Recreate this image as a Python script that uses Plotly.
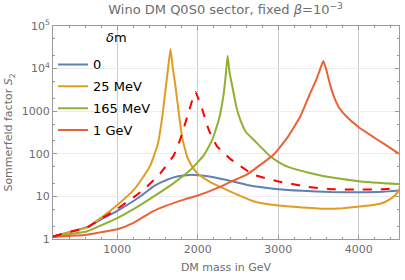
import plotly.graph_objects as go

# --- data ---
m_blue = [200, 400, 620, 800, 1000, 1200, 1300, 1446, 1535, 1700, 1800, 1900, 2000, 2100, 2283, 2407, 2500, 2615, 2700, 3000, 3300, 3650, 4000, 4300, 4500]
s_blue = [1.15, 1.45, 1.9, 2.9, 4.6, 7.8, 10.5, 17, 21, 28, 30.5, 32, 31.5, 30, 26, 23, 21, 18.6, 17.3, 14.7, 13.5, 12.6, 12.5, 12.9, 13.8]

m_orange = [200, 400, 620, 800, 1000, 1200, 1300, 1407, 1450, 1500, 1557, 1598, 1630, 1660, 1690, 1723, 1764, 1805, 1868, 1930, 2000, 2150, 2283, 2490, 2700, 3000, 3300, 3600, 3800, 4100, 4250, 4350, 4450, 4500]
s_orange = [1.15, 1.45, 1.85, 3.2, 6.3, 14, 25, 52, 85, 160, 710, 3160, 10000, 29000, 10000, 3700, 900, 240, 85, 50, 34, 22, 16.5, 11, 7.6, 6.1, 5.5, 5.1, 5.3, 6.0, 6.6, 7.8, 10.5, 14]

m_green = [200, 400, 620, 800, 1000, 1200, 1453, 1700, 1909, 2075, 2178, 2260, 2322, 2350, 2370, 2395, 2446, 2480, 2529, 2600, 2697, 2906, 3000, 3113, 3404, 3650, 4025, 4500]
s_green = [1.12, 1.3, 1.5, 2.1, 3.1, 5.0, 10, 20.5, 42, 93, 210, 620, 2600, 8000, 20000, 8000, 2600, 1230, 620, 320, 210, 85, 65, 50, 35, 28, 22.5, 19.5]

m_red = [200, 400, 620, 800, 1000, 1200, 1446, 1600, 1826, 2000, 2283, 2407, 2613, 2777, 2940, 3106, 3271, 3395, 3480, 3530, 3560, 3600, 3643, 3700, 3760, 3850, 4000, 4200, 4390, 4500]
s_red = [1.12, 1.18, 1.26, 1.45, 1.7, 2.4, 4.5, 6.0, 8.4, 10.5, 17, 22, 33, 55, 95, 230, 740, 2600, 6000, 11000, 15000, 8900, 4200, 2000, 1170, 740, 420, 235, 138, 100]

m_dash = [200, 400, 620, 800, 1000, 1200, 1328, 1535, 1701, 1785, 1868, 1930, 1970, 2010, 2055, 2137, 2241, 2407, 2490, 2615, 2700, 3000, 3350, 3650, 4000, 4300, 4500]
s_dash = [1.15, 1.45, 1.85, 3.0, 5.1, 9.5, 14.5, 35, 93, 230, 740, 1800, 2830, 1900, 1100, 360, 148, 75, 58, 40, 32, 22.5, 17, 14.8, 14.5, 14.8, 15.5]

legend_names = ["0", "25 MeV", "165 MeV", "1 GeV"]
y_tickvals = [1, 10, 100, 1000, 10000, 100000]
y_ticktext = ["1", "10", "100", "1000", "10<sup>4</sup>", "10<sup>5</sup>"]
x_tickvals = [1000, 2000, 3000, 4000]

colors = ["#5E81B5", "#E19C24", "#8FB032", "#EB6235"]
FONT = "DejaVu Sans"
GRAY = "#6d6d6d"

fig = go.Figure()
series = [(m_blue, s_blue), (m_orange, s_orange), (m_green, s_green), (m_red, s_red)]
for (mx, sy), name, c in zip(series, legend_names, colors):
    fig.add_trace(go.Scatter(x=mx, y=sy, mode="lines", name=name, legendgroup=name,
                             line=dict(color=c, width=2, shape="spline", smoothing=0.4)))
fig.add_trace(go.Scatter(x=m_dash, y=s_dash, mode="lines", showlegend=False,
                         line=dict(color="#FF0000", width=2, dash="dash", shape="spline", smoothing=0.4)))

axis_common = dict(showline=True, linecolor="#9a9a9a", linewidth=1, mirror="allticks",
                   ticks="inside", tickcolor="#9a9a9a", ticklen=4, automargin=False,
                   tickfont=dict(family=FONT, size=11, color=GRAY), zeroline=False)

fig.update_layout(
    width=405, height=280,
    margin=dict(l=52.5, r=6, t=25.5, b=40.5),
    paper_bgcolor="white", plot_bgcolor="white",
    title=dict(text="Wino DM Q0S0 sector, fixed <i>β</i>=10<sup>−3</sup>",
               x=0.557, xanchor="center", y=0.965, yanchor="middle",
               font=dict(family=FONT, size=13, color=GRAY)),
    xaxis=dict(range=[200, 4500], tickvals=x_tickvals,
               showgrid=True, gridcolor="#cccccc", gridwidth=1,
               minor=dict(ticks="inside", ticklen=2, dtick=200, tickcolor="#9a9a9a", showgrid=False),
               title=dict(text="DM mass in GeV", font=dict(family=FONT, size=11, color=GRAY), standoff=8),
               **axis_common),
    yaxis=dict(type="log", range=[0, 5], tickvals=y_tickvals, ticktext=y_ticktext,
               showgrid=True, gridcolor="#ececec", gridwidth=1,
               minor=dict(ticks="inside", ticklen=2, tickcolor="#9a9a9a", showgrid=False),
               title=dict(text="Sommerfeld factor <i>S</i><sub>2</sub>", font=dict(family=FONT, size=11, color=GRAY), standoff=6),
               **axis_common),
    legend=dict(x=0.0, y=0.89, xanchor="left", yanchor="top",
                bgcolor="rgba(0,0,0,0)", font=dict(family=FONT, size=13, color="black"),
                tracegroupgap=2),
    annotations=[dict(text="<i>δ</i>m", xref="paper", yref="paper", x=0.147, y=0.945,
                      xanchor="left", yanchor="middle", showarrow=False,
                      font=dict(family=FONT, size=13, color="black"))],
)

fig.write_html("out.html", config={"displayModeBar": False},
               post_script="document.body.style.margin='0';document.body.style.padding='0';")
